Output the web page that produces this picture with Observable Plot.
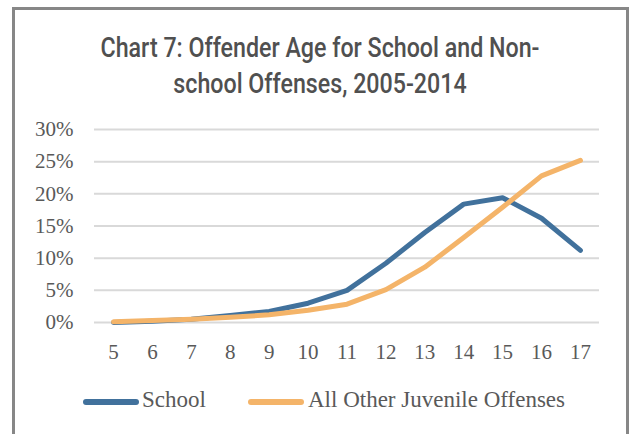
<!DOCTYPE html>
<html>
<head>
<meta charset="utf-8">
<script src="https://cdn.jsdelivr.net/npm/d3@7"></script>
<script src="https://cdn.jsdelivr.net/npm/@observablehq/plot@0.6"></script>
<style>
  html, body { margin: 0; padding: 0; background: #fff; width: 631px; height: 434px; overflow: hidden; }
  #frame { position: absolute; left: 12px; top: 7px; width: 617px; height: 440px; box-sizing: border-box; border: 3px solid #878787; }
  #title { position: absolute; left: 0; top: 30px; width: 640px; text-align: center; font-family: Roboto, "Liberation Sans", sans-serif; font-weight: 500; font-size: 27px; line-height: 36px; color: #505050; transform: scaleX(0.86); transform-origin: 320px 0; }
  #chart { position: absolute; left: 0; top: 110px; }
  #legend { position: absolute; top: 387px; left: 0; width: 631px; font-family: "Liberation Serif", serif; font-size: 23px; color: #595959; }
  .item { position: absolute; top: 0; white-space: nowrap; }
  .sw { position: absolute; top: 12px; height: 6px; border-radius: 3px; }
</style>
</head>
<body>
<div id="frame"></div>
<div id="title">Chart 7: Offender Age for School and Non-<br>school Offenses, 2005-2014</div>
<div id="chart"></div>
<div id="legend"></div>
<script>
const ages = [5, 6, 7, 8, 9, 10, 11, 12, 13, 14, 15, 16, 17];
const school = [0.0, 0.2, 0.5, 1.1, 1.7, 3.0, 5.0, 9.2, 14.0, 18.4, 19.4, 16.2, 11.2];
const other = [0.1, 0.3, 0.5, 0.8, 1.2, 1.9, 2.85, 5.1, 8.6, 13.2, 17.9, 22.8, 25.2];
const seriesNames = ["School", "All Other Juvenile Offenses"];
const seriesColors = ["#41719c", "#f4b469"];
const yTicks = [0, 5, 10, 15, 20, 25, 30];

const data = [];
ages.forEach((a, i) => {
  data.push({age: a, value: school[i], series: seriesNames[0]});
  data.push({age: a, value: other[i], series: seriesNames[1]});
});

const serif = '"Liberation Serif", serif';
const chart = Plot.plot({
  width: 631,
  height: 260,
  marginLeft: 94,
  marginRight: 32,
  marginTop: 19,
  marginBottom: 48,
  style: {fontFamily: serif, fontSize: "21px", color: "#595959", background: "transparent"},
  x: {domain: [4.51, 17.49], label: null},
  y: {domain: [0, 30], label: null},
  color: {domain: seriesNames, range: seriesColors},
  marks: [
    Plot.ruleY(yTicks, {stroke: "#d9d9d9", strokeWidth: 2}),
    Plot.axisY(yTicks, {tickSize: 0, tickPadding: 21, tickFormat: d => d + "%", fill: "#595959", fontSize: 21, label: null}),
    Plot.axisX(ages, {tickSize: 0, tickPadding: 22, tickFormat: d => String(d), fill: "#595959", fontSize: 21, label: null}),
    Plot.line(data, {x: "age", y: "value", z: "series", stroke: "series", strokeWidth: 5, strokeLinecap: "round", strokeLinejoin: "round", curve: "linear"})
  ]
});
document.getElementById("chart").appendChild(chart);

const legend = document.getElementById("legend");
const legendPos = [{sw: 83, text: 142}, {sw: 248, text: 308}];
seriesNames.forEach((n, i) => {
  const s = document.createElement("div");
  s.className = "sw";
  s.style.left = legendPos[i].sw + "px";
  s.style.width = "56px";
  s.style.background = seriesColors[i];
  legend.appendChild(s);
  const t = document.createElement("div");
  t.className = "item";
  t.style.left = legendPos[i].text + "px";
  t.textContent = n;
  legend.appendChild(t);
});
</script>
</body>
</html>
